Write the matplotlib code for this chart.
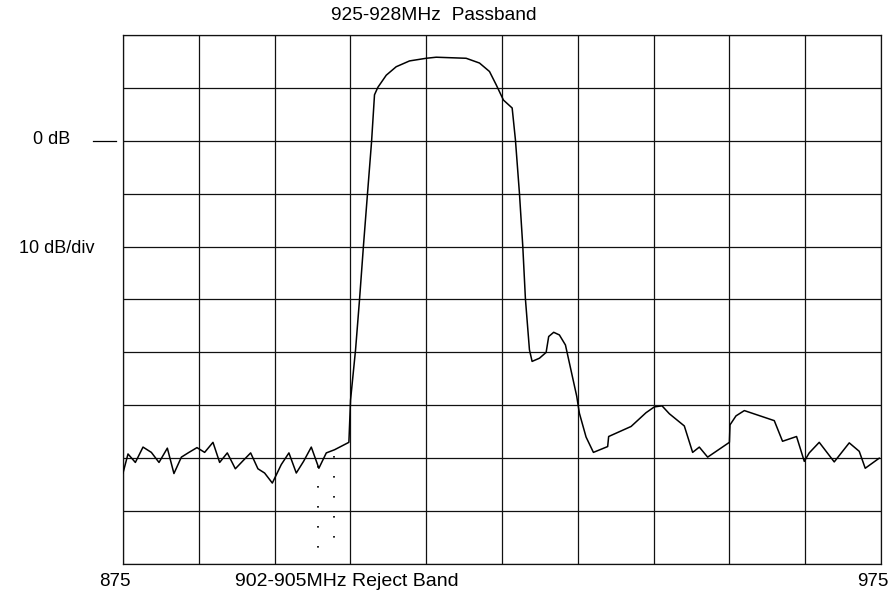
import numpy as np
import matplotlib
matplotlib.use('Agg')
import matplotlib.pyplot as plt
import matplotlib.transforms as mtransforms

plt.rcParams['font.family'] = ['Liberation Sans', 'DejaVu Sans']

# response trace (MHz, dB)
freq = [875.0, 875.66, 876.63, 877.64, 878.74, 879.75, 880.85, 881.72, 882.70, 883.70,
        884.76, 885.77, 886.87, 887.75, 888.76, 889.82, 890.82, 891.84, 892.80, 893.68,
        894.70, 895.88, 896.89, 897.86, 898.82, 899.84, 900.84, 901.82, 902.91, 904.80,
        905.02, 905.68, 906.21, 906.73, 907.26, 907.79, 908.18, 908.62, 909.73, 911.04,
        912.80, 915.0, 916.32, 920.27, 922.03, 923.35, 924.23, 925.19, 926.34, 926.77,
        927.30, 927.74, 928.09, 928.62, 928.97, 929.94, 930.82, 931.16, 931.82, 932.57,
        933.37, 934.86, 935.21, 936.09, 937.06, 938.94, 939.07, 942.03, 944.0, 945.10,
        946.11, 947.08, 949.05, 950.15, 951.03, 952.13, 955.0, 955.08, 955.87, 956.97,
        960.92, 962.01, 963.86, 964.88, 965.53, 966.85, 968.83, 970.81, 972.13, 972.92,
        974.76]
level = [-62.8, -59.2, -60.8, -57.9, -58.9, -60.8, -58.1, -62.9, -59.8, -58.9,
         -58.0, -58.9, -57.0, -60.8, -59.0, -62.0, -60.5, -59.0, -62.0, -62.8,
         -64.7, -61.2, -59.0, -62.8, -60.6, -57.9, -61.9, -59.0, -58.4, -57.0,
         -49.0, -39.5, -29.9, -19.7, -9.9, -0.2, 8.7, 10.1, 12.4, 14.0,
         15.1, 15.6, 15.8, 15.6, 14.7, 13.1, 10.6, 7.7, 6.2, 0.2,
         -9.9, -19.9, -29.9, -39.5, -41.7, -41.1, -40.0, -37.0, -36.2, -36.7,
         -38.6, -48.3, -51.5, -56.0, -58.9, -57.8, -55.9, -54.0, -51.4, -50.3,
         -50.1, -51.6, -53.9, -58.9, -57.9, -59.8, -57.0, -53.7, -52.0, -51.0,
         -52.9, -56.8, -55.9, -60.6, -59.0, -57.0, -60.7, -57.1, -58.7, -61.9,
         -60.0]

# dotted reject band markers
reject_f = [900.7, 902.8]
reject_top = [-61.5, -59.5]
reject_bottom = -78.0

x_min, x_max = 875, 975
y_min, y_max = -80, 20

fig = plt.figure(figsize=(8.9, 5.94), dpi=100)
ax = fig.add_axes([123 / 890, 1 - 564 / 594, 758 / 890, 529 / 594])

ax.set_xlim(x_min, x_max)
ax.set_ylim(y_min, y_max)
ax.set_xticks(np.arange(x_min, x_max + 1, 10))
ax.set_yticks(np.arange(y_min, y_max + 1, 10))
ax.tick_params(length=0, labelbottom=False, labelleft=False)
ax.grid(True, color='#111111', lw=0.9)
for s in ax.spines.values():
    s.set_color('#111111')
    s.set_linewidth(0.9)

ax.plot(freq, level, color='black', lw=1.1, zorder=3)

for f, top in zip(reject_f, reject_top):
    ax.plot([f, f], [top, reject_bottom], color='black', lw=1.2,
            linestyle=(0, (1, 11)), zorder=3)

# 0 dB marker and scale note on the left
trans = mtransforms.blended_transform_factory(ax.transAxes, ax.transData)
ax.plot([-0.040, -0.009], [0, 0], color='black', lw=0.9, transform=trans, clip_on=False)
ax.text(-0.094, 0.3, '0 dB', transform=trans, ha='center', va='center', fontsize=13)
ax.text(-0.088, -20.4, '10 dB/div', transform=trans, ha='center', va='center', fontsize=13)

fig.text(434 / 890, 1 - 15 / 594, '925-928MHz  Passband', ha='center', va='center', fontsize=13.8)
fig.text(115 / 890, 1 - 582 / 594, '875', ha='center', va='center', fontsize=13.5)
fig.text(347 / 890, 1 - 582 / 594, '902-905MHz Reject Band', ha='center', va='center', fontsize=14)
fig.text(873 / 890, 1 - 582 / 594, '975', ha='center', va='center', fontsize=13.5)

fig.savefig('out.png', dpi=100)
